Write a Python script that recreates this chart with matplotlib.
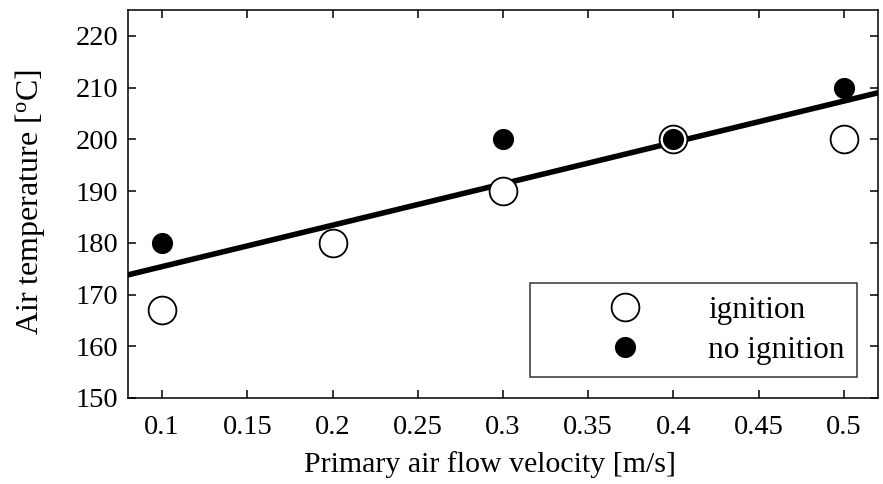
import matplotlib
matplotlib.use("Agg")
import matplotlib.pyplot as plt

plt.rcParams['font.family'] = ['Liberation Serif', 'DejaVu Serif']
plt.rcParams['mathtext.fontset'] = 'custom'
plt.rcParams['mathtext.rm'] = 'Liberation Serif'
plt.rcParams['mathtext.it'] = 'Liberation Serif:italic'

# Data
ign_x = [0.1, 0.2, 0.3, 0.4, 0.5]
ign_y = [167, 180, 190, 200, 200]
noign_x = [0.1, 0.3, 0.4, 0.5]
noign_y = [180, 200, 200, 210]
boundary_x = [0.08, 0.52]
boundary_y = [173.8, 209.0]
xticks = [0.1, 0.15, 0.2, 0.25, 0.3, 0.35, 0.4, 0.45, 0.5]
xticklabels = ['0.1', '0.15', '0.2', '0.25', '0.3', '0.35', '0.4', '0.45', '0.5']
yticks = [150, 160, 170, 180, 190, 200, 210, 220]

fig = plt.figure(figsize=(8.83, 4.84), dpi=100)
ax = fig.add_axes([128/883, 1-398/484, 750/883, 388/484])

ax.plot(boundary_x, boundary_y, color='black', lw=4.0, zorder=2)
ax.plot(ign_x, ign_y, 'o', ms=20, mfc='white', mec='black', mew=1.3,
        ls='none', label='ignition', zorder=3)
ax.plot(noign_x, noign_y, 'o', ms=14.2, mfc='black', mec='black',
        ls='none', label='no ignition', zorder=4)

ax.set_xlim(0.08, 0.52)
ax.set_ylim(150, 225)
ax.set_xticks(xticks)
ax.set_xticklabels(xticklabels)
ax.set_yticks(yticks)
ax.tick_params(direction='in', top=True, right=True, length=6, width=1.1,
               labelsize=20.5)
ax.tick_params(axis='x', pad=12)
ax.tick_params(axis='y', pad=7)
for s in ax.spines.values():
    s.set_linewidth(1.1)

ax.set_xlabel('Primary air flow velocity [m/s]', fontsize=21.5)
ax.xaxis.set_label_coords(0.483, -0.137)
ax.set_ylabel(r'Air temperature [$^{\rm o}$C]', fontsize=23)
ax.yaxis.set_label_coords(-0.108, 0.505)

leg = ax.legend(loc='lower right', bbox_to_anchor=(0.972, 0.054), fontsize=22.5,
                frameon=True, fancybox=False, edgecolor='black',
                handletextpad=0.0, borderpad=0.4, labelspacing=0.35,
                handlelength=5.3, borderaxespad=0)
leg.get_frame().set_linewidth(1.1)

fig.savefig('out.png', dpi=100)
